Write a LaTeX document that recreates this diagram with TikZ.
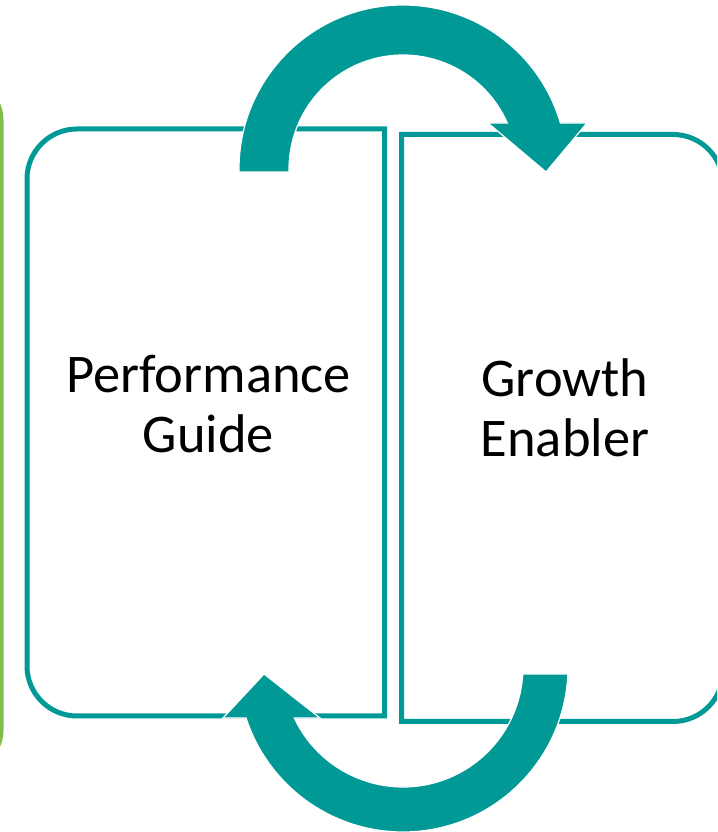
\documentclass[tikz,border=0pt]{standalone}
\usepackage{fontspec}
\setmainfont{Carlito}
\definecolor{teal}{RGB}{0,153,150}
\definecolor{leafgreen}{RGB}{128,188,72}
\tikzset{
  panel/.style={draw=teal, line width=5pt, line join=miter},
  cyclearrow/.style={fill=teal, draw=white, line width=1.2pt},
  lbl/.style={font=\fontsize{54.5}{60}\selectfont, align=center, inner sep=0pt, text=black}
}
\begin{document}
\begin{tikzpicture}[x=1pt,y=1pt]
\useasboundingbox (0,0) rectangle (717,832);
\clip (0,0) rectangle (717,832);
% edge of the neighbouring panel on the left
\draw[leafgreen, line width=4pt, rounded corners=40pt]
  (-60,752) -- (1.5,752) -- (1.5,62) -- (-60,62);
% left panel, rounded on its left side
\draw[panel] (384.5,703) -- (77,703) arc[start angle=90, end angle=180, radius=50]
  -- (27,166) arc[start angle=180, end angle=270, radius=50] -- (384.5,116) -- cycle;
% right panel, rounded on its right side
\draw[panel] (401.5,697.5) -- (673,697.5) arc[start angle=90, end angle=0, radius=50]
  -- (723,160.5) arc[start angle=0, end angle=-90, radius=50] -- (401.5,110.5) -- cycle;
% labels (base anchor sits on the last line)
\node[lbl, anchor=base] (pg) at (208.5,379) {Performance\\Guide};
\node[lbl, anchor=base] (ge) at (565,375) {Growth\\Enabler};
% arc centres
\coordinate (tc) at (403,663);
\coordinate (bc) at (403,165);
% upper circular arrow, left panel to right panel
\path[cyclearrow] ([shift={(tc)}]181.05:164) arc[start angle=181.05, end angle=16.3, radius=164]
  -- (587,709) -- (546,660) -- (488,709) -- ([shift={(tc)}]23.8:114)
  arc[start angle=23.8, end angle=181.5, radius=114] -- cycle;
% lower circular arrow, right panel back to left panel
\path[cyclearrow] ([shift={(bc)}]-3.3:120) -- ([shift={(bc)}]-2.4:165)
  arc[start angle=-2.4, end angle=-162, radius=165]
  -- (223,114) -- (264,158) -- (320,114) -- ([shift={(bc)}]-154.85:120)
  arc[start angle=-154.85, end angle=-3.3, radius=120] -- cycle;
\end{tikzpicture}
\end{document}
